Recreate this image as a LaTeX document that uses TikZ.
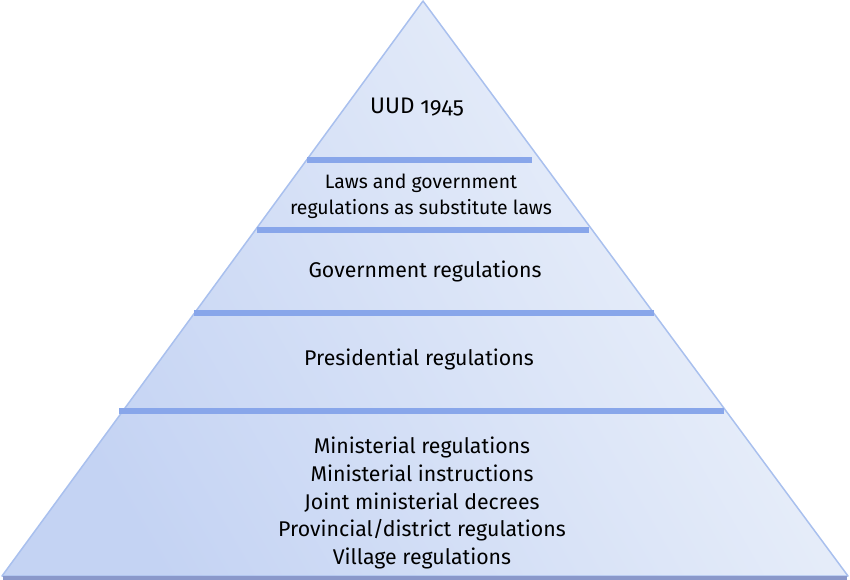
\documentclass[tikz,border=0pt]{standalone}
\usepackage{fontspec}
\setmainfont{Fira Sans}[Numbers=OldStyle]
\usetikzlibrary{positioning}
\definecolor{pyrdark}{HTML}{C4D3F3}
\definecolor{pyrlight}{HTML}{EEF3FB}
\definecolor{pyredge}{HTML}{A9C0EE}
\definecolor{barblue}{HTML}{88A6EA}
\definecolor{baseblue}{HTML}{8A98CA}
\tikzset{
  layer/.style={align=center, text=black, font=\fontsize{21.3}{27.8}\selectfont},
  bar/.style={barblue, line width=6.5pt}
}
\newcommand{\LayerBar}[3]{%
  \draw[bar] (#1,#3) -- (#2,#3);
}

\begin{document}
\begin{tikzpicture}[x=1pt,y=-1pt]
    \useasboundingbox (0,0) rectangle (850,580);
    % pyramid body
    \shade[bottom color=pyrdark, top color=pyrlight, shading angle=-60]
      (423,1) -- (848,576) -- (2,576) -- cycle;
    \draw[pyredge, line width=1.5pt, line join=round]
      (423,1) -- (848,576) -- (2,576) -- cycle;
    \draw[baseblue, line width=4pt] (3,578) -- (847,578);

    % separating bars
    \LayerBar{307}{532}{160}
    \LayerBar{257}{589}{230}
    \LayerBar{194}{654}{313}
    \LayerBar{119}{724}{411}

    % layer texts
    \node (uud) [layer, font=\fontsize{22.5}{27}\selectfont] at (417,107) {UUD 1945};
    \node (laws) [layer, font=\fontsize{19.4}{26}\selectfont] at (421,196)
      {Laws and government\\regulations as substitute laws};
    \node (govreg) [layer] at (425,271) {Government regulations};
    \node (presreg) [layer] at (419,359) {Presidential regulations};
    \node (minreg) [layer] at (422,503)
      {Ministerial regulations\\Ministerial instructions\\Joint ministerial decrees\\Provincial/district regulations\\Village regulations};
\end{tikzpicture}
\end{document}
